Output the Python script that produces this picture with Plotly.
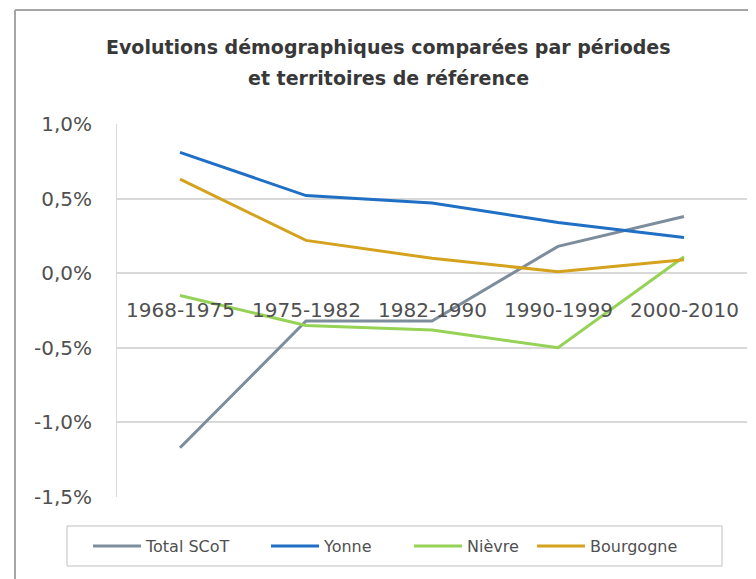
import plotly.graph_objects as go

categories = ["1968-1975", "1975-1982", "1982-1990", "1990-1999", "2000-2010"]
total_scot = [-1.17, -0.32, -0.32, 0.18, 0.38]
yonne = [0.81, 0.52, 0.47, 0.34, 0.24]
nievre = [-0.15, -0.35, -0.38, -0.50, 0.11]
bourgogne = [0.63, 0.22, 0.10, 0.01, 0.09]
tick_vals = [1.0, 0.5, 0.0, -0.5, -1.0, -1.5]
tick_text = ["1,0%", "0,5%", "0,0%", "-0,5%", "-1,0%", "-1,5%"]
title_lines = ["Evolutions démographiques comparées par périodes", "et territoires de référence"]

series = [
    ("Total SCoT", total_scot, "#7D8D9C"),
    ("Yonne", yonne, "#1F6FC5"),
    ("Nièvre", nievre, "#95D255"),
    ("Bourgogne", bourgogne, "#D4A21C"),
]

FONT = "DejaVu Sans"
OFF = 8  # page body margin
W, H = 756, 579
# screen-space targets
SL, SR, ST, SB = 117, 747, 124, 497
L, T = SL - OFF, ST - OFF
R, B = W - (SR - OFF), H - (SB - OFF)
pw, ph = W - L - R, H - T - B

def px(x):
    return (x - OFF - L) / pw

def py(y):
    return (H - B - (y - OFF)) / ph

legend_starts = [94, 272, 415, 538]
legend_ids = ["legend", "legend2", "legend3", "legend4"]

fig = go.Figure()
for (name, vals, col), lid in zip(series, legend_ids):
    fig.add_trace(go.Scatter(x=categories, y=vals, mode="lines", name=name,
                             line=dict(color=col, width=3), legend=lid))

annotations = [dict(x=c, y=0, xref="x", yref="y", text=c, showarrow=False,
                    yanchor="middle", yshift=-37,
                    font=dict(family=FONT, size=20, color="#505050"))
               for c in categories]
for line, ycen in zip(title_lines, [47, 78]):
    annotations.append(dict(x=px(388), y=py(ycen), xref="paper", yref="paper",
                            text="<b>%s</b>" % line, showarrow=False,
                            xanchor="center", yanchor="middle",
                            font=dict(family=FONT, size=19, color="#383838")))

shapes = [
    dict(type="line", xref="paper", yref="paper", x0=px(15), x1=px(W + OFF), y0=py(10), y1=py(10),
         line=dict(color="#A6A6A6", width=2)),
    dict(type="line", xref="paper", yref="paper", x0=px(15), x1=px(15), y0=py(10), y1=py(H + OFF),
         line=dict(color="#A6A6A6", width=2)),
    dict(type="rect", xref="paper", yref="paper", x0=px(67), x1=px(722), y0=py(526), y1=py(566),
         line=dict(color="#BFBFBF", width=1), fillcolor="rgba(0,0,0,0)"),
]

legend_layouts = {}
for lid, sx in zip(legend_ids, legend_starts):
    legend_layouts[lid] = dict(orientation="h", x=px(sx - 6), xanchor="left",
                               y=py(546), yanchor="middle",
                               borderwidth=0, bgcolor="rgba(0,0,0,0)",
                               font=dict(family=FONT, size=16, color="#505050"),
                               itemwidth=48)

fig.update_layout(
    width=W, height=H,
    margin=dict(l=L, r=R, t=T, b=B),
    paper_bgcolor="white", plot_bgcolor="white",
    xaxis=dict(type="category", range=[-0.5, 4.5], showticklabels=False,
               showgrid=False, zeroline=False, showline=False),
    yaxis=dict(range=[-1.5, 1.0], tickvals=tick_vals, ticktext=tick_text,
               showgrid=True, gridcolor="#D9D9D9", gridwidth=2,
               zeroline=True, zerolinecolor="#D9D9D9", zerolinewidth=2,
               showline=True, linecolor="#D9D9D9", linewidth=1,
               ticks="", ticklabelstandoff=20,
               tickfont=dict(family=FONT, size=20, color="#505050")),
    annotations=annotations,
    shapes=shapes,
    showlegend=True,
    **legend_layouts,
)

fig.write_html("out.html")
